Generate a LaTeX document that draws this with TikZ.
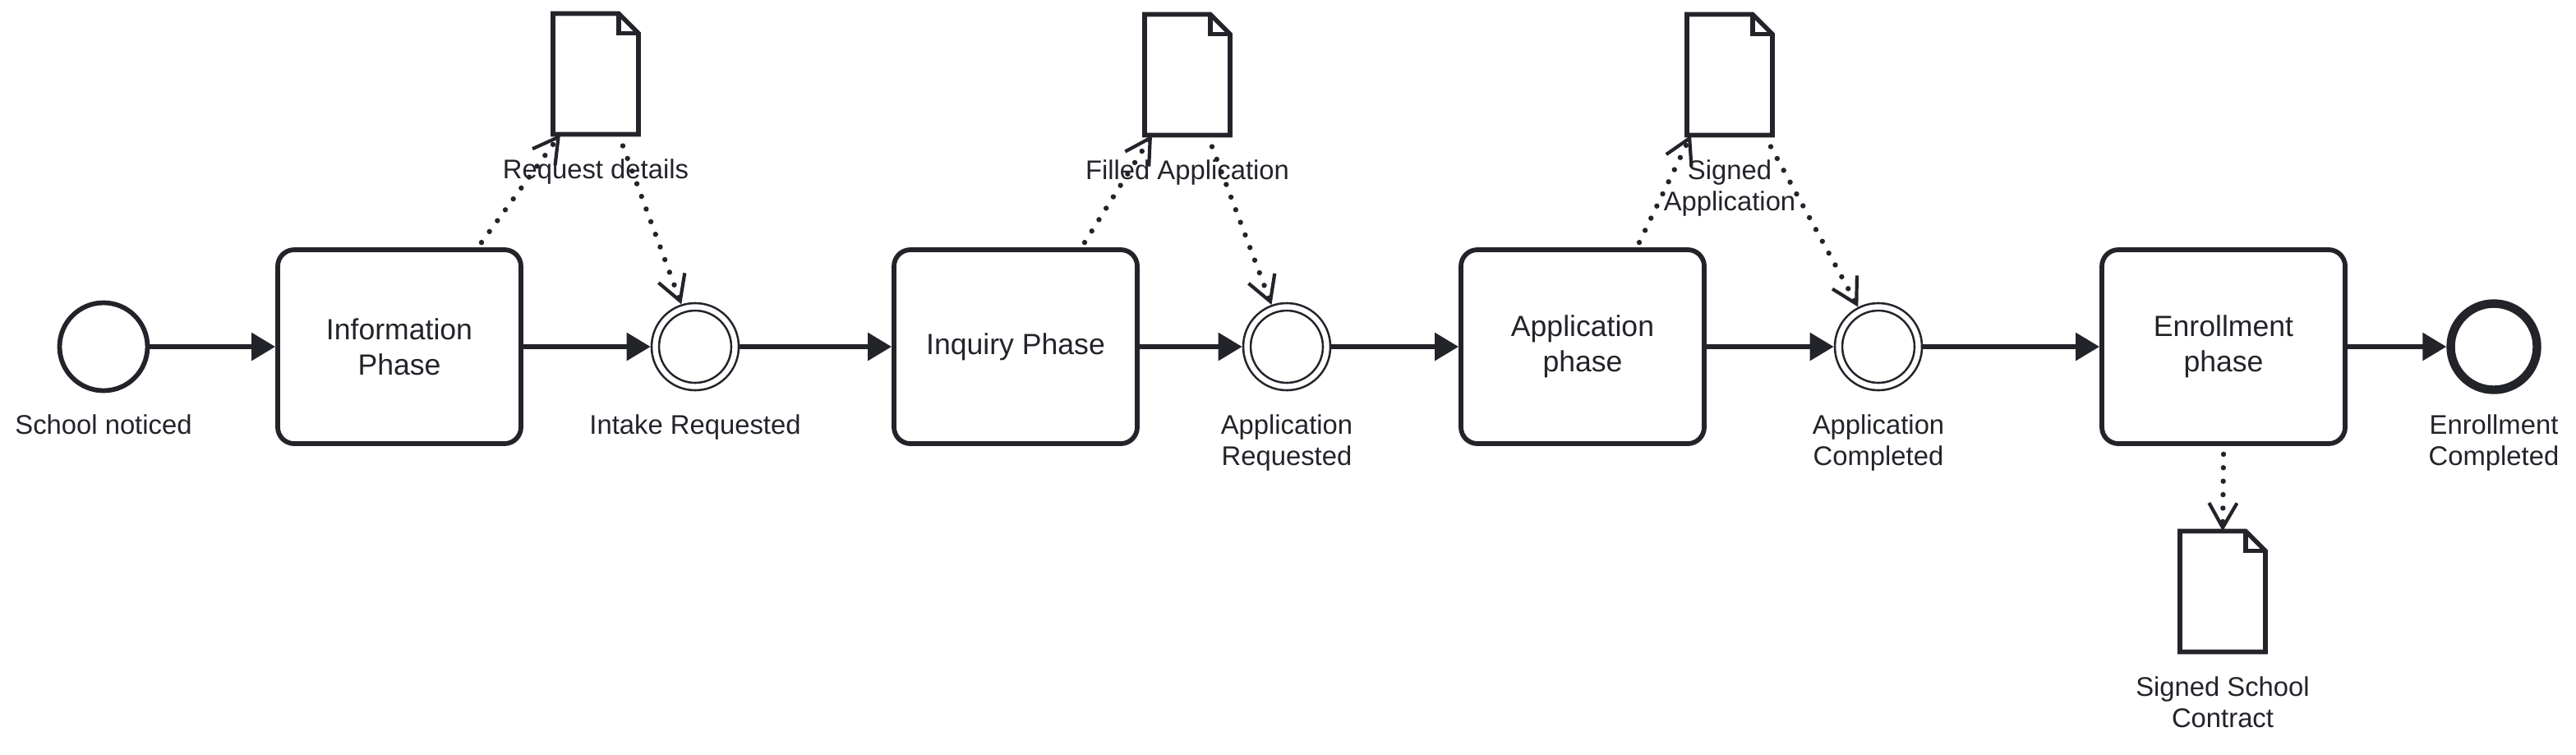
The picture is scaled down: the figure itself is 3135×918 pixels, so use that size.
\documentclass[tikz,border=0pt]{standalone}
\usepackage{fontspec}
\setmainfont{Liberation Sans}
\usetikzlibrary{arrows.meta,positioning}
\definecolor{ink}{HTML}{22242A}

\begin{document}
\begin{tikzpicture}[x=0.5pt, y=-0.5pt, every node/.style={text=ink}, node distance=14pt,
    taskbox/.style={draw=ink, line width=2.9pt, rounded corners=10pt, minimum width=148pt, minimum height=118pt, inner sep=0pt, align=center, font=\fontsize{17.8pt}{21.5pt}\selectfont},
    startev/.style={circle, draw=ink, line width=2.9pt, minimum size=53.5pt, inner sep=0pt},
    midev/.style={circle, draw=ink, double=white, line width=1.3pt, double distance=3.2pt, minimum size=48.5pt, inner sep=0pt, outer sep=2.9pt},
    endev/.style={circle, draw=ink, line width=5.2pt, minimum size=52.5pt, inner sep=0pt},
    docbox/.style={minimum width=52pt, minimum height=73.5pt, inner sep=0pt, outer sep=0pt},
    lbl/.style={align=center, inner sep=0pt, font=\fontsize{16.4pt}{19pt}\selectfont},
    flow/.style={draw=ink, line width=2.9pt, -{Triangle[length=14.5pt,width=16.5pt]}},
    assoc/.style={draw=ink, line width=3.2pt, line cap=round, dash pattern=on 0pt off 8.2pt, -{Straight Barb[length=15pt,width=17pt,line width=2.1pt]}}]

\useasboundingbox (0,0) rectangle (3135,918);

\node[startev] (start) at (126,422) {};
\node[taskbox] (info) at (486,422) {Information\\Phase};
\node[midev] (intake) at (846,422) {};
\node[taskbox] (inquiry) at (1236,422) {Inquiry Phase};
\node[midev] (appreq) at (1566,422) {};
\node[taskbox] (app) at (1926,422) {Application\\phase};
\node[midev] (appdone) at (2286,422) {};
\node[taskbox] (enroll) at (2706,422) {Enrollment\\phase};
\node[endev] (finish) at (3035,422) {};

\node[docbox] (reqdoc) at (725,90) {};
\node[docbox] (filldoc) at (1445,91) {};
\node[docbox] (signdoc) at (2105,91) {};
\node[docbox] (contract) at (2705,720) {};

\node[lbl, below=13pt of start] (startlbl) {School noticed};
\node[lbl, below=14pt of intake] (intakelbl) {Intake Requested};
\node[lbl, below=14pt of appreq] (appreqlbl) {Application\\Requested};
\node[lbl, below=14pt of appdone] (appdonelbl) {Application\\Completed};
\node[lbl, below=12.5pt of finish] (finishlbl) {Enrollment\\Completed};
\node[lbl, below=15pt of reqdoc] (reqlbl) {Request details};
\node[lbl, below=15pt of filldoc] (filllbl) {Filled Application};
\node[lbl, below=15pt of signdoc] (signlbl) {Signed\\Application};
\node[lbl, below=15pt of contract] (contractlbl) {Signed School\\Contract};

\foreach \d in {reqdoc,filldoc,signdoc,contract} {
  \draw[ink, line width=2.8pt, line join=miter] (\d.south west) |- ([xshift=-12pt]\d.north east) -- ([yshift=-12pt]\d.north east) -- (\d.south east) -- cycle;
  \draw[ink, line width=2.8pt, line join=miter] ([xshift=-12pt]\d.north east) |- ([yshift=-12pt]\d.north east);
}

\foreach \a/\b in {start/info, info/intake, intake/inquiry, inquiry/appreq, appreq/app, app/appdone, appdone/enroll, enroll/finish}
  \draw[flow] (\a) -- (\b);

\draw[assoc] ([xshift=50pt,yshift=3pt]info.north) -- ([xshift=-21.5pt]reqdoc.south);
\draw[assoc] ([xshift=16.5pt,yshift=-7pt]reqdoc.south) -- (intake.108);
\draw[assoc] ([xshift=42pt,yshift=3pt]inquiry.north) -- ([xshift=-21.5pt]filldoc.south);
\draw[assoc] ([xshift=15pt,yshift=-7pt]filldoc.south) -- (appreq.110);
\draw[assoc] ([xshift=34.5pt,yshift=3pt]app.north) -- ([xshift=-23.5pt]signdoc.south);
\draw[assoc] ([xshift=25pt,yshift=-7pt]signdoc.south) -- (appdone.117);
\draw[assoc] ([yshift=-5pt]enroll.south) -- (contract.north);

\end{tikzpicture}
\end{document}
